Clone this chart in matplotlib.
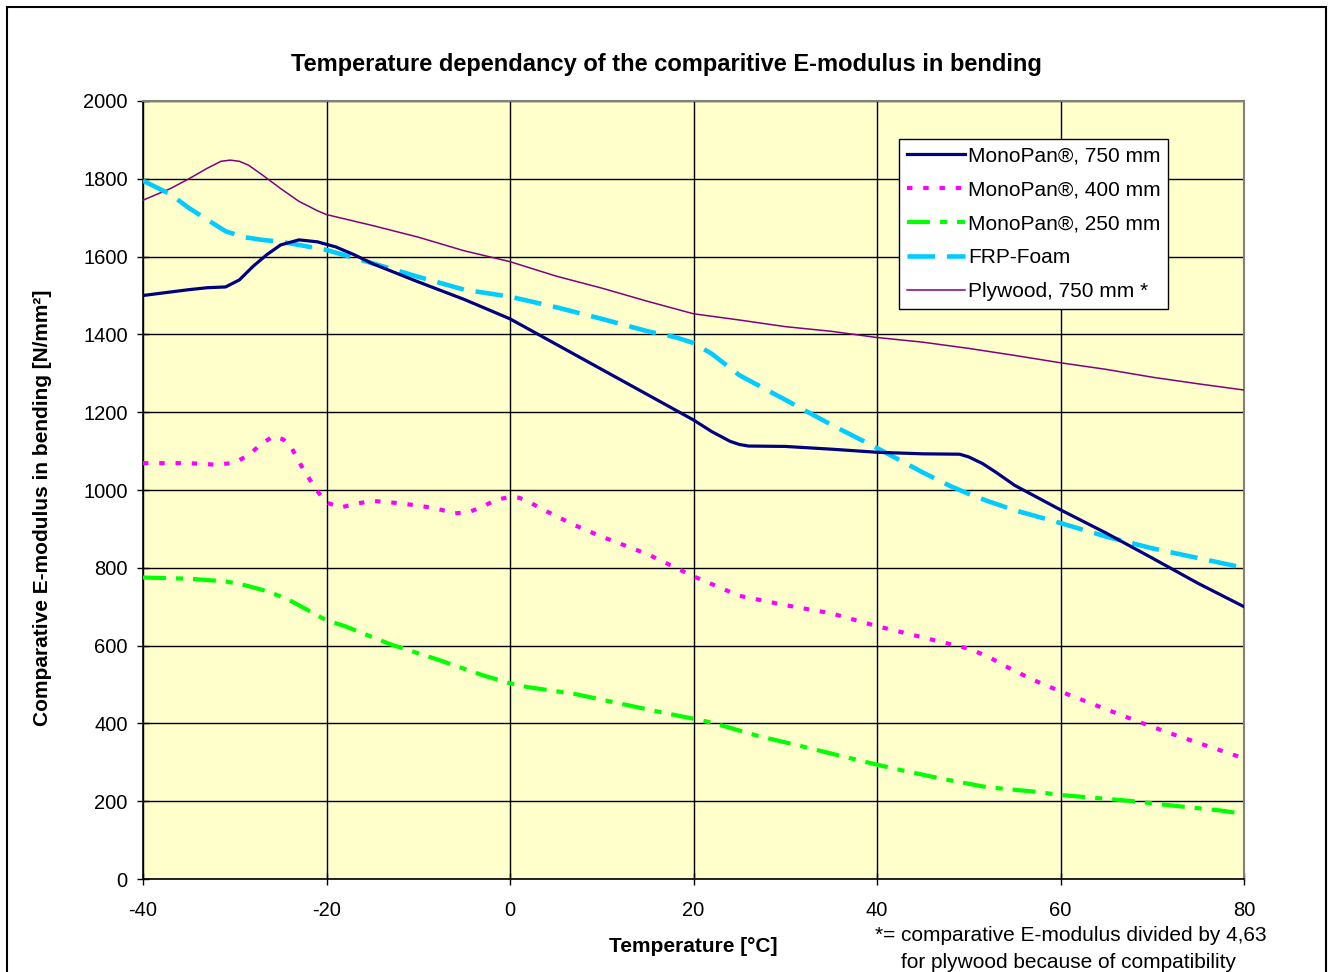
import matplotlib
matplotlib.use("Agg")
import matplotlib.pyplot as plt
from matplotlib.patches import Rectangle

plt.rcParams['font.family'] = ['Liberation Sans', 'DejaVu Sans']
plt.rcParams['axes.unicode_minus'] = False

# ---------------- data ----------------
title = "Temperature dependancy of the comparitive E-modulus in bending"
xlabel = "Temperature [°C]"
ylabel = "Comparative E-modulus in bending [N/mm²]"
footnote1 = "*= comparative E-modulus divided by 4,63"
footnote2 = "for plywood because of compatibility"

x_ticks = [-40, -20, 0, 20, 40, 60, 80]
y_ticks = [0, 200, 400, 600, 800, 1000, 1200, 1400, 1600, 1800, 2000]

labels = ["MonoPan®, 750 mm", "MonoPan®, 400 mm", "MonoPan®, 250 mm",
          "FRP-Foam", "Plywood, 750 mm *"]

mp750_x = [-40, -35, -33, -31, -29.5, -28, -26.5, -25, -23, -21, -19, -17, -15, -10, -5, 0,
           5, 10, 15, 20, 22, 24, 25, 26, 30, 35, 40, 45, 49, 50, 51.5, 53, 55, 60, 65, 70, 75, 80]
mp750_y = [1500, 1515, 1520, 1522, 1540, 1575, 1605, 1630, 1643, 1638, 1625, 1605, 1582, 1535,
           1490, 1440, 1375, 1310, 1245, 1180, 1150, 1125, 1117, 1113, 1112, 1105, 1097, 1093,
           1092, 1085, 1068, 1045, 1012, 949, 889, 825, 760, 700]

mp400_x = [-40, -35, -32, -30, -28.5, -27, -25.8, -24.7, -23.8, -22.6, -21.1, -20, -18.5, -16.5,
           -15, -12.5, -10, -8, -6, -4.5, -3, -1.5, 0, 1, 2, 4, 7, 10, 15, 20, 25, 30, 35, 40,
           45, 50, 52, 54, 57, 60, 65, 69, 72.5, 75, 80]
mp400_y = [1069, 1069, 1065, 1070, 1090, 1120, 1138, 1130, 1108, 1056, 1000, 968, 955, 966,
           972, 967, 960, 952, 940, 943, 957, 975, 982, 980, 970, 945, 910, 880, 835, 778,
           728, 704, 683, 650, 621, 592, 573, 547, 512, 482, 436, 400, 370, 350, 310]

mp250_x = [-40, -35, -31, -29, -26.5, -24.5, -23.5, -20, -18, -13, -8, -3, 0, 2, 7, 12, 17,
           20, 22, 27, 32, 37, 40, 42, 47, 52, 57, 60, 67.5, 72.5, 77.5, 80]
mp250_y = [775, 772, 765, 756, 740, 722, 710, 665, 650, 603, 565, 524, 503, 493, 476, 451,
           426, 412, 402, 368, 340, 311, 294, 283, 258, 236, 225, 216, 201, 188, 176, 167]

frp_x = [-40, -37, -35, -33, -31, -29, -27, -25, -23, -20, -15, -10, -5, 0, 5, 10, 15, 18,
         20, 22, 25, 30, 35, 40, 45, 48, 50, 52, 55, 60, 65, 70, 75, 80]
frp_y = [1795, 1760, 1725, 1695, 1665, 1650, 1643, 1638, 1630, 1617, 1583, 1548, 1515, 1497,
         1470, 1440, 1408, 1393, 1378, 1350, 1295, 1232, 1168, 1108, 1045, 1010, 990, 972,
         948, 915, 880, 850, 825, 800]

ply_x = [-40, -37, -35, -33, -31.5, -30.5, -29.5, -28.5, -27, -25, -23, -21, -20, -15, -10,
         -5, 0, 5, 10, 15, 20, 25, 30, 35, 40, 45, 50, 55, 60, 65, 70, 75, 80]
ply_y = [1745, 1775, 1800, 1827, 1845, 1848, 1845, 1835, 1810, 1775, 1742, 1718, 1708, 1680,
         1650, 1615, 1587, 1550, 1519, 1485, 1453, 1437, 1420, 1408, 1392, 1380, 1364, 1346,
         1327, 1310, 1290, 1273, 1257]

# ---------------- figure ----------------
W, H = 1332, 972
fig = plt.figure(figsize=(W / 100, H / 100), dpi=100)
fig.patch.set_facecolor('white')

# outer chart border
fig.add_artist(Rectangle((7 / W, -0.05), (1326 - 7) / W, (1 - 7 / H) + 0.05,
                         transform=fig.transFigure, fill=False, edgecolor='black',
                         linewidth=1.5, zorder=0))

left, right, top, bottom = 143 / W, 1244 / W, 101 / H, 879 / H
ax = fig.add_axes([left, 1 - bottom, right - left, bottom - top])
ax.set_facecolor('#FFFFCC')

ax.plot(ply_x, ply_y, color='#800080', lw=1.1, label=labels[4], zorder=3)
l_frp, = ax.plot(frp_x, frp_y, color='#00CCFF', lw=3.3, label=labels[3], zorder=4)
l_frp.set_dashes([6.0, 2.6])
l_250, = ax.plot(mp250_x, mp250_y, color='#00FF00', lw=3.0, label=labels[2], zorder=4)
l_250.set_dashes([5.5, 2.4, 1.7, 2.4])
l_400, = ax.plot(mp400_x, mp400_y, color='#FF00FF', lw=3.0, label=labels[1], zorder=4)
l_400.set_dashes([1.3, 2.6])
l_750, = ax.plot(mp750_x, mp750_y, color='#000080', lw=2.3, label=labels[0], zorder=5)

ax.set_xlim(-40, 80)
ax.set_ylim(0, 2000)
ax.set_xticks(x_ticks)
ax.set_yticks(y_ticks)
ax.grid(True, color='#000000', lw=1.0, zorder=1)
ax.set_axisbelow(True)
ax.tick_params(axis='both', direction='inout', length=8, width=1.0, labelsize=14.5,
               colors='black')
ax.tick_params(axis='y', pad=7)
ax.tick_params(axis='x', pad=12)
for s in ['top', 'right']:
    ax.spines[s].set_color('#808080')
    ax.spines[s].set_linewidth(1.5)
for s in ['left', 'bottom']:
    ax.spines[s].set_color('black')
    ax.spines[s].set_linewidth(1.2)

handles, labs = ax.get_legend_handles_labels()
hmap = dict(zip(labs, handles))
leg = ax.legend([hmap[l] for l in labels], labels, loc='upper right',
                bbox_to_anchor=(0.931, 0.951), borderaxespad=0, fontsize=15,
                frameon=True, fancybox=False, edgecolor='black', facecolor='white',
                framealpha=1, handlelength=2.8, handletextpad=0.15, labelspacing=0.72,
                borderpad=0.35)
leg.get_frame().set_linewidth(1.0)
leg.set_zorder(10)

fig.text(666 / W, 1 - 65 / H, title, ha='center', va='center',
         fontsize=17, fontweight='bold')
fig.text(43 / W, 1 - 508 / H, ylabel, ha='center', va='center', rotation=90,
         fontsize=15, fontweight='bold')
fig.text(693 / W, 1 - 946 / H, xlabel, ha='center', va='center', fontsize=15,
         fontweight='bold')
fig.text(875 / W, 1 - 935 / H, footnote1, ha='left', va='center', fontsize=15)
fig.text(901 / W, 1 - 962 / H, footnote2, ha='left', va='center', fontsize=15)

fig.savefig('out.png', dpi=100)
